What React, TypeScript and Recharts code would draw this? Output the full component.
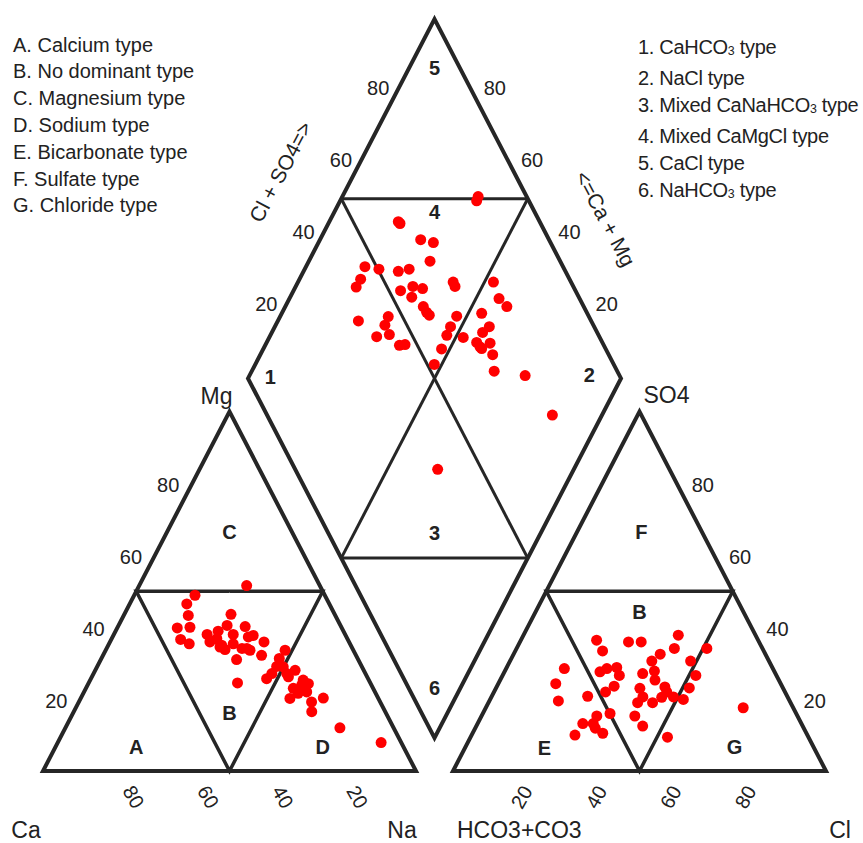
import React from "react";
import { ScatterChart, Scatter, XAxis, YAxis } from "recharts";

// ---- layout of the Piper frame (data units, triangle side = 100) ----
const K = Math.sqrt(3) / 2;
const GAP = 9.92;
const RX = 100 + GAP; // left corner of anion triangle
const DX = 100 + GAP / 2; // bottom tip of diamond
const DY = 8;
const INK = "#262626";
const DOT = "#ff0000";

const X_DOMAIN = [-43 / 3.73, 820 / 3.73];
const Y_DOMAIN = [-72 / 4.15, 771 / 4.15];

const TICKS = [20, 40, 60, 80];

const typeLegend = [
  "A. Calcium type",
  "B. No dominant type",
  "C. Magnesium type",
  "D. Sodium type",
  "E. Bicarbonate type",
  "F. Sulfate type",
  "G. Chloride type",
];

const waterTypes = [
  "1. CaHCO3 type",
  "2. NaCl type",
  "3. Mixed CaNaHCO3 type",
  "4. Mixed CaMgCl type",
  "5. CaCl type",
  "6. NaHCO3 type",
];

// cation samples: [Na+K %, Mg %]
const cations = [
  [28.8, 51.6], [16.3, 48.9], [15.3, 46.5], [17.3, 43.3], [16.1, 39.8],
  [19.4, 40.0], [18.6, 36.6], [21.5, 35.4], [28.6, 43.6], [29.1, 40.5],
  [34.1, 40.2], [25.0, 38.0], [27.5, 38.9], [28.2, 36.8], [32.0, 38.0],
  [36.4, 37.3], [37.5, 37.7], [26.8, 35.9], [30.2, 34.5], [31.9, 33.8],
  [33.3, 35.4], [36.3, 34.1], [38.7, 33.6], [41.3, 35.9], [42.5, 32.2],
  [36.4, 31.0], [39.9, 24.5], [48.1, 33.6], [47.7, 31.3], [48.1, 29.1],
  [47.8, 27.1], [47.1, 25.7], [51.8, 27.1], [53.6, 28.0], [52.7, 26.2],
  [55.6, 23.0], [57.4, 23.9], [59.0, 24.3], [57.6, 21.6], [59.7, 22.0],
  [56.1, 20.2], [62.4, 19.2], [65.0, 20.3], [63.8, 16.5], [73.6, 12.0],
  [86.7, 7.9], [37.6, 34.1], [30.4, 35.0], [49.9, 29.0], [57.1, 25.3],
];

// anion samples: [Cl %, SO4 %]
const anions = [
  [41.5, 37.8], [51.0, 34.1], [20.3, 36.4], [29.1, 35.9], [32.5, 35.9],
  [23.4, 33.4], [42.3, 34.1], [39.3, 32.5], [38.0, 30.6], [48.4, 30.6],
  [15.6, 28.5], [27.0, 28.5], [29.5, 28.8], [25.6, 27.6], [31.3, 26.6],
  [37.3, 27.1], [40.1, 27.8], [51.8, 26.6], [15.4, 24.3], [41.5, 25.3],
  [31.4, 23.6], [45.1, 23.4], [51.8, 23.1], [38.6, 23.0], [18.5, 19.5],
  [25.7, 20.8], [29.9, 22.0], [40.6, 20.6], [45.7, 20.5], [48.8, 20.6],
  [51.8, 19.9], [40.0, 19.0], [44.0, 19.0], [46.3, 22.0], [34.1, 16.0],
  [30.9, 15.3], [41.1, 15.3], [28.2, 13.2], [31.0, 13.2], [44.6, 12.5],
  [27.7, 10.0], [34.9, 10.5], [52.8, 9.4], [69.0, 17.6], [32.2, 11.9],
];

// diamond samples: [Cl+SO4 %, Ca+Mg %]
const combined = [
  [86.0, 63.4], [87.0, 63.6], [62.1, 81.5], [62.3, 80.8], [65.6, 73.0],
  [68.6, 69.2], [65.1, 67.5], [46.9, 84.2], [50.3, 80.1], [55.2, 74.6],
  [58.4, 72.0], [44.0, 83.6], [41.7, 83.7], [53.1, 71.3], [57.0, 68.6],
  [59.3, 65.7], [55.2, 67.4], [68.4, 58.4], [68.3, 57.3], [79.2, 47.6],
  [78.4, 43.8], [79.4, 40.6], [57.0, 63.0], [57.1, 61.3], [57.4, 60.2],
  [64.6, 52.7], [37.6, 78.4], [46.2, 71.0], [44.1, 70.7], [40.3, 71.3],
  [44.0, 68.2], [45.2, 64.0], [46.8, 62.6], [61.5, 52.9], [59.3, 52.7],
  [63.4, 48.0], [71.7, 46.4], [71.9, 42.5], [69.3, 43.5], [66.3, 43.7],
  [66.8, 41.5], [69.8, 40.0], [68.9, 37.7], [56.0, 52.2], [67.0, 35.0],
  [74.7, 26.1], [51.9, 52.0], [76.5, 13.3], [38.2, 36.5], [66.6, 42.2],
];

const cat = (na: number, mg: number) => ({ x: na + mg / 2, y: mg * K });
const ani = (cl: number, so4: number) => ({ x: RX + cl + so4 / 2, y: so4 * K });
const dia = (a: number, b: number) => ({ x: DX + (a - b) / 2, y: DY + (a + b) * K });

const frame = [
  { w: 4, pts: [cat(50, 0), cat(100, 0), cat(0, 100), cat(0, 0), cat(50, 0)] },
  { w: 3.5, pts: [cat(25, 50), cat(50, 50), cat(50, 0), cat(0, 50), cat(25, 50)] },
  { w: 4, pts: [ani(50, 0), ani(100, 0), ani(0, 100), ani(0, 0), ani(50, 0)] },
  { w: 3.5, pts: [ani(25, 50), ani(50, 50), ani(50, 0), ani(0, 50), ani(25, 50)] },
  { w: 4, pts: [dia(0, 50), dia(0, 0), dia(100, 0), dia(100, 100), dia(0, 100), dia(0, 50)] },
  { w: 3, pts: [dia(50, 100), dia(100, 50)] },
  { w: 3, pts: [dia(0, 50), dia(50, 0)] },
  { w: 3, pts: [dia(50, 100), dia(50, 0)] },
  { w: 3, pts: [dia(100, 50), dia(0, 50)] },
];

type Label = {
  x: number; y: number; text: string; size: number;
  dx?: number; dy?: number; angle?: number; bold?: boolean; anchor?: string;
};

const labels: Label[] = [
  ...TICKS.map((v) => ({ ...cat(0, v), text: `${v}`, dx: -24, dy: 2, size: 20 })),
  ...TICKS.map((v) => ({ ...cat(100 - v, 0), text: `${v}`, dx: 16, dy: 26, angle: 60, size: 20 })),
  ...TICKS.map((v) => ({ ...ani(100 - v, v), text: `${v}`, dx: 26, dy: 2, size: 20 })),
  ...TICKS.map((v) => ({ ...ani(v, 0), text: `${v}`, dx: -6, dy: 26, angle: -60, size: 20 })),
  ...TICKS.map((v) => ({ ...dia(v, 100), text: `${v}`, dx: -19, dy: -3, size: 20 })),
  ...TICKS.map((v) => ({ ...dia(100, v), text: `${v}`, dx: 23, dy: -3, size: 20 })),
  // region letters
  { x: 25, y: 5.8, text: "A", size: 20, bold: true },
  { x: 50, y: 14, text: "B", size: 20, bold: true },
  { x: 50, y: 57.6, text: "C", size: 20, bold: true },
  { x: 75, y: 5.8, text: "D", size: 20, bold: true },
  { x: RX + 24.5, y: 5.5, text: "E", size: 20, bold: true },
  { x: RX + 50, y: 38.3, text: "B", size: 20, bold: true },
  { x: RX + 50.5, y: 57.6, text: "F", size: 20, bold: true },
  { x: RX + 75.5, y: 5.8, text: "G", size: 20, bold: true },
  { x: DX, y: DY + 161.4, text: "5", size: 20, bold: true },
  { x: DX, y: DY + 126.7, text: "4", size: 20, bold: true },
  { x: DX - 44, y: DY + 86.9, text: "1", size: 20, bold: true },
  { x: DX + 41.5, y: DY + 87.4, text: "2", size: 20, bold: true },
  { x: DX, y: DY + 49.4, text: "3", size: 20, bold: true },
  { x: DX, y: DY + 12, text: "6", size: 20, bold: true },
  // axis names
  { ...cat(0, 0), text: "Ca", dx: -17, dy: 59, size: 23 },
  { ...cat(100, 0), text: "Na", dx: -14, dy: 59, size: 23 },
  { ...cat(0, 100), text: "Mg", dx: -13, dy: -16, size: 23 },
  { ...ani(0, 0), text: "HCO3+CO3", dx: 4, dy: 59, size: 23, anchor: "start" },
  { ...ani(100, 0), text: "Cl", dx: 14, dy: 59, size: 23 },
  { ...ani(0, 100), text: "SO4", dx: 27, dy: -17, size: 23 },
  { ...dia(55, 100), text: "Cl + SO4=>", dx: -70, dy: -9, angle: -62, size: 21 },
  { ...dia(100, 55), text: "<=Ca + Mg", dx: 87, dy: 38, angle: 62, size: 21 },
];

const toXY = (pts: number[][], f: (a: number, b: number) => { x: number; y: number }) =>
  pts.map(([a, b]) => f(a, b));

const renderDot = (p: any) => <circle cx={p.cx} cy={p.cy} r={5.5} fill={DOT} />;

const renderLabel = (p: any) => {
  const d: Label = p.payload;
  const x = p.cx + (d.dx || 0);
  const y = p.cy + (d.dy || 0);
  return (
    <text
      x={x}
      y={y}
      textAnchor={d.anchor || "middle"}
      dominantBaseline="central"
      transform={d.angle ? `rotate(${d.angle} ${x} ${y})` : undefined}
      fontSize={d.size}
      fontWeight={d.bold ? 700 : 400}
      fontFamily="'Liberation Sans', Arial, sans-serif"
      fill="#222"
    >
      {d.text}
    </text>
  );
};

const withSub = (s: string) => {
  const parts = s.split("HCO3");
  return parts.map((part, i) => (
    <React.Fragment key={i}>
      {part}
      {i < parts.length - 1 && (
        <>
          HCO<span style={{ fontSize: "0.62em", verticalAlign: "-0.1em" }}>3</span>
        </>
      )}
    </React.Fragment>
  ));
};

const legendStyle: React.CSSProperties = {
  position: "absolute",
  fontFamily: "'Liberation Sans', Arial, sans-serif",
  fontSize: 20,
  lineHeight: "26.8px",
  color: "#222",
  whiteSpace: "nowrap",
};

export default function App() {
  return (
    <div style={{ position: "absolute", left: 0, top: 0, width: 863, height: 843, background: "#fff" }}>
      <ScatterChart width={863} height={843} margin={{ top: 0, right: 0, bottom: 0, left: 0 }}>
        <XAxis type="number" dataKey="x" domain={X_DOMAIN} hide allowDataOverflow />
        <YAxis type="number" dataKey="y" domain={Y_DOMAIN} hide allowDataOverflow />
        {frame.map((f, i) => (
          <Scatter
            key={`frame${i}`}
            data={f.pts}
            line={{ stroke: INK, strokeWidth: f.w, strokeLinejoin: "miter" }}
            lineType="joint"
            shape={() => <g />}
            isAnimationActive={false}
          />
        ))}
        <Scatter data={labels} shape={renderLabel} isAnimationActive={false} />
        <Scatter data={toXY(cations, cat)} shape={renderDot} isAnimationActive={false} />
        <Scatter data={toXY(anions, ani)} shape={renderDot} isAnimationActive={false} />
        <Scatter data={toXY(combined, dia)} shape={renderDot} isAnimationActive={false} />
      </ScatterChart>
      <div style={{ ...legendStyle, left: 13, top: 31.6 }}>
        {typeLegend.map((t) => (
          <div key={t}>{t}</div>
        ))}
      </div>
      <div style={{ ...legendStyle, left: 638, top: 33.5, lineHeight: "27px", letterSpacing: -0.3 }}>
        {waterTypes.map((t) => (
          <div key={t}>{withSub(t)}</div>
        ))}
      </div>
    </div>
  );
}
